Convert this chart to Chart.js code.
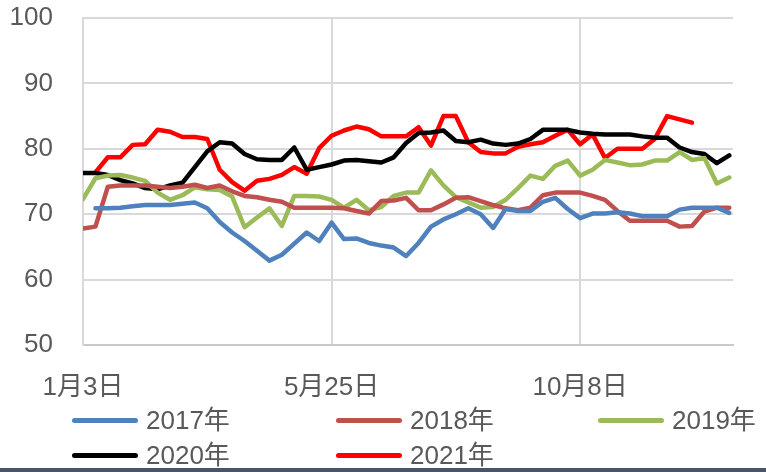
<!DOCTYPE html>
<html>
<head>
<meta charset="utf-8">
<script src="https://cdn.jsdelivr.net/npm/chart.js@4/dist/chart.umd.min.js"></script>
<style>
  html, body { margin: 0; padding: 0; background: #fff; overflow: hidden; }
  #wrap { position: relative; width: 766px; height: 472px; }
  #c { position: absolute; left: 0; top: 0; }
  .lg { position: absolute; font-family: "Liberation Sans", "Noto Sans CJK SC", sans-serif; font-size: 26px; color: #595959; line-height: 30px; white-space: nowrap; }
  .sw { position: absolute; height: 5px; width: 66px; border-radius: 3px; }
  #bar { position: absolute; left: 0; bottom: 0; width: 766px; height: 4px; background: #46556a; }
</style>
</head>
<body>
<div id="wrap">
  <canvas id="c" width="766" height="472"></canvas>
  <div id="legend"></div>
  <div id="bar"></div>
</div>
<script>
// x-axis tick labels and their week positions
const tickLabels = ['1月3日', '5月25日', '10月8日'];
const tickIndex = [0, 20, 40];

const seriesNames = ['2017年', '2018年', '2019年', '2020年', '2021年'];
const seriesColors = ['#4f81bd', '#c0504d', '#9bbb59', '#000000', '#ff0000'];

const s2017 = [null, 70.9, 70.9, 71.0, 71.2, 71.4, 71.4, 71.4, 71.6, 71.8, 70.9, 68.8, 67.2, 65.9, 64.4, 62.9, 63.8, 65.5, 67.2, 65.9, 68.7, 66.2, 66.3, 65.6, 65.2, 64.9, 63.6, 65.6, 68.1, 69.2, 70.0, 70.9, 70.0, 67.9, 70.8, 70.5, 70.5, 71.9, 72.5, 70.8, 69.4, 70.1, 70.1, 70.3, 70.1, 69.7, 69.7, 69.7, 70.7, 71.0, 71.0, 71.0, 70.2];
const s2018 = [67.8, 68.1, 74.2, 74.4, 74.4, 74.4, 74.2, 74.0, 74.2, 74.5, 74.0, 74.4, 73.5, 72.8, 72.6, 72.2, 71.9, 71.0, 71.0, 71.0, 71.0, 70.9, 70.5, 70.1, 72.0, 72.1, 72.5, 70.6, 70.6, 71.5, 72.5, 72.6, 72.0, 71.4, 70.9, 70.6, 71.0, 72.9, 73.3, 73.3, 73.3, 72.8, 72.2, 70.5, 69.0, 69.0, 69.0, 69.0, 68.1, 68.2, 70.4, 71.0, 71.0];
const s2019 = [72.3, 75.5, 75.9, 76.0, 75.6, 75.1, 73.3, 72.2, 72.9, 74.1, 73.8, 73.7, 72.7, 68.0, 69.5, 70.9, 68.2, 72.8, 72.8, 72.7, 72.2, 71.0, 72.2, 70.6, 71.1, 72.8, 73.3, 73.3, 76.7, 74.4, 72.6, 71.8, 71.0, 71.1, 72.2, 74.0, 75.9, 75.4, 77.4, 78.2, 75.9, 76.8, 78.3, 77.9, 77.5, 77.6, 78.2, 78.2, 79.5, 78.3, 78.6, 74.7, 75.6];
const s2020 = [76.3, 76.3, 76.0, 75.2, 74.7, 74.0, 73.8, 74.4, 74.8, 77.2, 79.6, 81.0, 80.8, 79.2, 78.4, 78.3, 78.3, 80.2, 76.8, 77.2, 77.6, 78.2, 78.3, 78.1, 77.9, 78.7, 80.9, 82.4, 82.5, 82.8, 81.2, 81.0, 81.4, 80.8, 80.6, 80.8, 81.5, 82.9, 82.9, 82.9, 82.5, 82.3, 82.2, 82.2, 82.2, 81.9, 81.7, 81.7, 80.2, 79.5, 79.2, 77.8, 79.0];
const s2021 = [null, 76.4, 78.7, 78.7, 80.6, 80.7, 82.9, 82.6, 81.8, 81.8, 81.5, 76.8, 74.9, 73.6, 75.1, 75.4, 76.0, 77.2, 76.2, 80.1, 82.0, 82.8, 83.4, 83.0, 81.9, 81.9, 81.9, 83.3, 80.5, 85.0, 85.0, 81.0, 79.5, 79.3, 79.3, 80.3, 80.7, 81.0, 82.0, 82.9, 80.7, 82.2, 78.6, 80.0, 80.0, 80.0, 81.5, 85.0, 84.5, 84.0, null, null, null];

const seriesData = [s2017, s2018, s2019, s2020, s2021];
const weekIndex = s2020.map((_, i) => i);

const FONT = '"Liberation Sans", "Noto Sans CJK SC", sans-serif';

const datasets = seriesData.map((d, k) => ({
  label: seriesNames[k],
  data: d,
  borderColor: seriesColors[k],
  backgroundColor: seriesColors[k],
  borderWidth: 4.5,
  pointRadius: 0,
  tension: 0,
  fill: false,
  borderCapStyle: 'round',
  borderJoinStyle: 'round',
  spanGaps: false
}));

new Chart(document.getElementById('c'), {
  type: 'line',
  data: { labels: weekIndex, datasets },
  options: {
    responsive: false,
    animation: false,
    layout: { padding: { top: 18, right: 33, bottom: 0, left: 0 } },
    plugins: { legend: { display: false }, tooltip: { enabled: false } },
    scales: {
      x: {
        type: 'linear',
        min: 0,
        max: 52.3,
        afterBuildTicks: (s) => { s.ticks = tickIndex.map(v => ({ value: v })); },
        afterFit: (s) => { s.height = 127; s.paddingLeft = 0; s.paddingRight = 0; },
        grid: { color: '#d9d9d9', lineWidth: 2, drawTicks: false },
        border: { display: true, color: '#c8c8c8', width: 2 },
        ticks: {
          autoSkip: false,
          maxRotation: 0,
          padding: 27,
          color: '#595959',
          font: { family: FONT, size: 26 },
          callback: (v) => tickLabels[tickIndex.indexOf(v)]
        }
      },
      y: {
        min: 50,
        max: 100,
        afterFit: (s) => { s.width = 83; s.paddingTop = 0; s.paddingBottom = 0; },
        grid: { color: '#d9d9d9', lineWidth: 2, drawTicks: false },
        border: { display: true, color: '#d9d9d9', width: 2 },
        ticks: {
          stepSize: 10,
          padding: 30,
          color: '#595959',
          font: { family: FONT, size: 26 }
        }
      }
    }
  }
});

// legend (grid layout as in the reference)
const legendPos = [
  { x: 72, y: 420 }, { x: 336, y: 420 }, { x: 598, y: 420 },
  { x: 72, y: 455 }, { x: 336, y: 455 }
];
const lg = document.getElementById('legend');
seriesNames.forEach((name, k) => {
  const p = legendPos[k];
  const sw = document.createElement('div');
  sw.className = 'sw';
  sw.style.left = p.x + 'px';
  sw.style.top = (p.y - 2.5) + 'px';
  sw.style.background = seriesColors[k];
  lg.appendChild(sw);
  const t = document.createElement('div');
  t.className = 'lg';
  t.style.left = (p.x + 74) + 'px';
  t.style.top = (p.y - 15) + 'px';
  t.textContent = name;
  lg.appendChild(t);
});
</script>
</body>
</html>
